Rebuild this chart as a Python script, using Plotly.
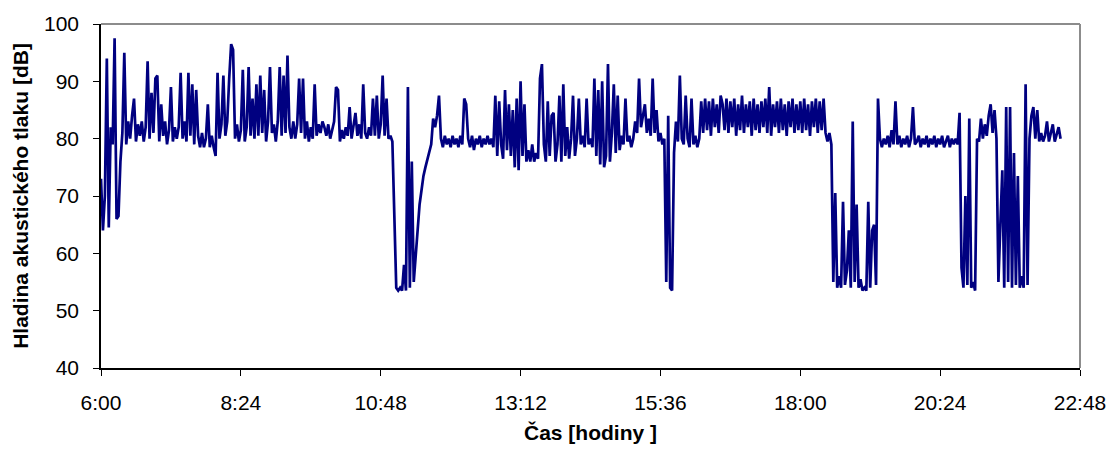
import plotly.graph_objects as go

# Sound pressure level samples, one every 2 minutes starting at 6:00
start_label = "6:00"
sample_step_min = 2
level_db = [
    73, 64, 70, 94, 64.5, 82, 79, 97.5, 66, 66.5, 76, 81, 95, 79, 83, 80, 84, 87, 79.5, 82.5,
    80.5, 83, 79.5, 82, 93.5, 80, 88, 81, 90.5, 91, 79.5, 86, 80.5, 83, 79, 81.5, 89, 79.5, 82, 80,
    82, 91.5, 80, 83, 79.5, 91.5, 80.5, 89.5, 79, 88.5, 80.5, 78.5, 81, 78.5, 80, 86, 78.5, 80.5, 78.5, 77,
    91.5, 80, 82.5, 91, 80.5, 83, 90.5, 96.5, 95.5, 80, 82.5, 79.5, 81.5, 92, 79.5, 82, 92.5, 80.5, 87, 80,
    89.5, 80.5, 91, 81, 88.5, 79.5, 83, 92.5, 81, 82.5, 79.5, 83, 92.5, 80.5, 91, 81, 94.5, 82, 80, 83,
    80, 82.5, 90.5, 81, 90.5, 80, 83, 79.5, 82, 80, 89.5, 80.5, 82.5, 81, 83, 82, 80.5, 82.5, 80, 81.5,
    83, 89, 88.5, 79.5, 81.5, 80, 82, 80.5, 85.5, 80, 82, 84.5, 80.5, 82.5, 80, 89.5, 81, 80, 82, 80.5,
    87, 80.5, 87.5, 80, 82.5, 91, 80.5, 87, 80, 80.5, 79.5, 68, 54, 53.5, 54, 53.5, 58, 53.5, 89, 54,
    76, 55, 60, 64, 68.5, 71, 73.5, 75, 76.5, 77.5, 79, 83.5, 82, 84, 87.5, 80, 78.5, 80.5, 79, 80,
    78.5, 80.5, 79, 80, 78.5, 80.5, 79, 87, 86, 80, 78.5, 80.5, 78, 80, 79, 80.5, 78.5, 80, 79, 80.5,
    79, 80, 78.5, 87.5, 77, 86.5, 79, 76.5, 88.5, 78, 86, 77, 85, 75, 87, 74.5, 90, 77, 86, 76,
    78, 76, 79, 76, 77.5, 76.5, 90.5, 93, 79, 76, 86.5, 77, 84, 84.5, 76, 79, 87.5, 76, 89.5, 77,
    82, 76.5, 80, 87.5, 77, 80, 87, 79, 80.5, 78.5, 87, 79, 80, 78.5, 90.5, 77, 88.5, 75.5, 90, 75,
    77, 93, 76, 81, 89.5, 77.5, 87.5, 78, 80.5, 79, 87, 79.5, 80.5, 78.5, 80, 83, 81, 90.5, 82, 84,
    86, 81, 83.5, 80.5, 90.5, 81, 85, 79.5, 81, 79, 80, 55, 84, 54, 53.5, 77.5, 83, 79.5, 91, 80,
    79, 87.5, 80, 78.5, 87, 79, 80.5, 78.5, 80, 86.5, 81, 87, 81.5, 86.5, 80.5, 87, 82, 86, 81, 87.5,
    86, 81.5, 87, 81, 86.5, 82, 87, 80.5, 86, 81.5, 87.5, 81, 86, 82, 86.5, 80.5, 87, 81.5, 86, 81,
    86.5, 82, 87, 81, 89, 80.5, 86, 82, 86.5, 81, 87, 81.5, 86, 80.5, 86.5, 82, 87, 81, 86, 81.5,
    86.5, 81, 87, 81.5, 86, 80.5, 86.5, 82, 87, 81, 86.5, 81.5, 87, 81, 79.5, 81, 79, 55, 70.5, 54,
    56, 54, 69, 54.5, 57, 64, 54, 83, 55, 68.5, 54, 55.5, 53.5, 54, 53.5, 69, 54, 64, 65, 54.5,
    87, 80, 78.5, 80, 79, 80.5, 78.5, 81.5, 79, 86.5, 79, 80.5, 78.5, 80, 79, 80.5, 78.5, 80, 85.5, 79,
    79.5, 80.5, 78.5, 80, 79, 80.5, 78.5, 80, 79, 80.5, 78.5, 80, 79, 80.5, 78.5, 79.5, 80.5, 78.5, 80, 79,
    80, 79, 84.5, 57.5, 54, 70, 54.5, 83.5, 54, 55, 53.5, 80, 79.5, 83.5, 80, 82.5, 80.5, 84, 86, 81,
    85, 80, 55, 65, 74.5, 54, 85.5, 55, 85.5, 54, 77.5, 54.5, 73.5, 54, 56, 54, 89.5, 54.5, 80, 84,
    85.5, 80, 85, 79.5, 81, 79.5, 80.5, 83, 79.5, 81, 82.5, 79.5, 81, 82, 80,
]

tick_minutes = [0, 144, 288, 432, 576, 720, 864, 1008]
tick_labels = ["6:00", "8:24", "10:48", "13:12", "15:36", "18:00", "20:24", "22:48"]
y_ticks = [40, 50, 60, 70, 80, 90, 100]

minutes = [i * sample_step_min for i in range(len(level_db))]

fig = go.Figure()
fig.add_trace(go.Scatter(
    x=minutes, y=level_db, mode="lines",
    line=dict(color="#000080", width=2.7),
    hoverinfo="skip", showlegend=False,
))

font_family = "Liberation Sans, Arial, sans-serif"

fig.update_layout(
    width=1118, height=457,
    margin=dict(l=101, r=30, t=20, b=89),
    paper_bgcolor="white", plot_bgcolor="white",
    font=dict(family=font_family, size=21, color="black"),
    showlegend=False,
    xaxis=dict(
        range=[0, 1008], tickvals=tick_minutes, ticktext=tick_labels,
        showgrid=False, zeroline=False,
        showline=True, linecolor="black", linewidth=1.5,
        ticks="outside", ticklen=6, tickwidth=1.2, tickcolor="black",
        ticklabelstandoff=9,
        title=dict(text="<b>Čas [hodiny ]</b>", font=dict(size=21), standoff=12),
    ),
    yaxis=dict(
        range=[40, 100], tickvals=y_ticks,
        showgrid=False, zeroline=False,
        showline=True, linecolor="black", linewidth=1.5,
        ticks="outside", ticklen=6, tickwidth=1.2, tickcolor="black",
        ticklabelstandoff=10,
        title=dict(text="<b>Hladina akustického tlaku [dB]</b>", font=dict(size=21), standoff=10),
    ),
    shapes=[
        dict(type="line", xref="paper", yref="paper", x0=0, x1=1, y0=1, y1=1,
             line=dict(color="#8c8c8c", width=2)),
        dict(type="line", xref="paper", yref="paper", x0=1, x1=1, y0=0, y1=1,
             line=dict(color="#8c8c8c", width=2)),
    ],
)

fig.write_html("out.html")
